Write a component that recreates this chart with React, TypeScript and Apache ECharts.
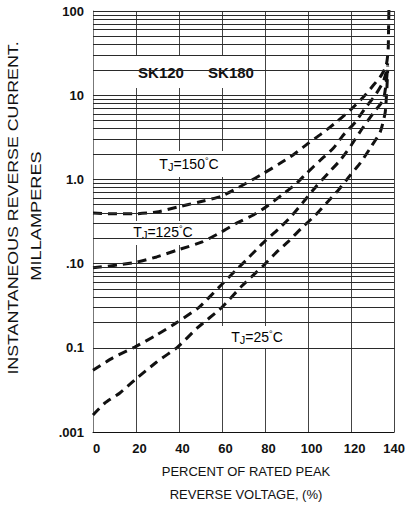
import React, { useEffect, useRef } from "react";
import * as echarts from "echarts";

// ---- data ----
// x: percent of rated peak reverse voltage, y: reverse current (mA)
const tj150: [number, number][] = [
  [0, 0.4], [9.2, 0.39], [18.5, 0.39], [29.6, 0.41], [39.3, 0.47], [49.4, 0.54],
  [59.6, 0.63], [71.2, 0.9], [79.5, 1.19], [86.4, 1.52], [93.3, 1.98], [100.2, 2.7],
  [106.3, 3.5], [113.2, 4.8], [119.7, 6.7], [125.7, 9.5], [130.3, 13.1], [134, 17.2],
  [136.3, 22.6], [137.2, 34], [137.4, 60], [137.6, 118],
];
const tj125: [number, number][] = [
  [0, 0.089], [18.5, 0.102], [29.6, 0.12], [39.3, 0.145], [50.8, 0.181], [59.6, 0.237],
  [67, 0.305], [74.8, 0.38], [80.9, 0.48], [87.8, 0.653], [94.3, 0.881], [99.4, 1.19],
  [105.8, 1.7], [111.8, 2.36], [116.4, 3.37], [122, 4.81], [126.6, 7.05], [131.2, 10],
  [134.9, 14.4], [136.3, 18.9], [137, 24],
];
const tj25a: [number, number][] = [
  [0, 0.0054], [9.2, 0.0076], [19.4, 0.0102], [29.6, 0.0142], [39.3, 0.0202], [49.4, 0.0305],
  [59.6, 0.0557], [66.5, 0.0839], [71.2, 0.11], [75.8, 0.145], [80.4, 0.19], [86.4, 0.26],
  [92.4, 0.37], [98.8, 0.58], [103.9, 0.835], [109.4, 1.19], [115, 1.7], [120.1, 2.56],
  [124.7, 3.86], [130.3, 6.15], [134.9, 8.77], [136.3, 14], [137, 22],
];
const tj25b: [number, number][] = [
  [0, 0.00159], [5.5, 0.00221], [12.5, 0.00291], [19.4, 0.00414], [29.6, 0.00678],
  [39.3, 0.0102], [48.5, 0.0172], [59.6, 0.0297], [69.3, 0.0545],
  [79.5, 0.0962], [85, 0.134], [91, 0.185], [97, 0.265], [103.5, 0.378], [108.6, 0.525],
  [114.1, 0.749], [119.7, 1.13], [124.3, 1.57], [128.9, 2.36], [133.5, 3.65],
  [135.8, 6.15], [136.3, 8.77], [136.7, 13.2], [137, 20],
];
// tick label texts for decades 0.001 .. 100 (as printed on the original)
const yTickLabels = [".001", "0.1", ".10", "1.0", "10", "100"];
const xTickValues = [0, 20, 40, 60, 80, 100, 120, 140];
const decades = [0.001, 0.01, 0.1, 1, 10];
const multipliers = [1, 2, 3, 4, 5, 6, 7, 8, 9];

const FONT = '"Liberation Sans", Arial, sans-serif';

export default function App() {
  const ref = useRef<HTMLDivElement>(null);
  useEffect(() => {
    if (!ref.current) return;
    const chart = echarts.init(ref.current, undefined, { renderer: "svg" });

    const gridValues: number[] = [];
    decades.forEach((d) => multipliers.forEach((m) => gridValues.push(+(d * m).toPrecision(3))));
    gridValues.push(100);

    const curveStyle = { color: "#111", width: 3, type: [9, 6] as any, cap: "butt" as any };
    const mkCurve = (name: string, data: [number, number][]) => ({
      name,
      type: "line",
      data,
      smooth: 0.2,
      showSymbol: false,
      symbol: "none",
      clip: false,
      z: 3,
      lineStyle: curveStyle,
      silent: true,
    });

    const tjRich = {
      t: { fontSize: 14, fontFamily: FONT, lineHeight: 16, color: "#111" },
      j: { fontSize: 11, fontFamily: FONT, lineHeight: 10, verticalAlign: "bottom", color: "#111" },
      d: { fontSize: 9, fontFamily: FONT, lineHeight: 10, verticalAlign: "top", color: "#111" },
    };
    const box = (x: number, y: number, w: number, h: number) => ({
      type: "rect",
      z: 2,
      silent: true,
      shape: { x, y, width: w, height: h },
      style: { fill: "#fff" },
    });
    const tjText = (x: number, y: number, temp: string) => ({
      type: "text",
      z: 2,
      z2: 10,
      x,
      y,
      silent: true,
      style: {
        text: `{t|T}{j|J}{t|=${temp}}{d|°}{t|C}`,
        rich: tjRich,
        align: "center",
        verticalAlign: "middle",
      },
    });
    const plain = (x: number, y: number, text: string, size: number, weight: string, extra: any = {}) => ({
      type: "text",
      z: 2,
      z2: 10,
      x,
      y,
      silent: true,
      ...extra,
      style: {
        text,
        fontSize: size,
        fontWeight: weight,
        fontFamily: FONT,
        fill: "#111",
        align: "center",
        verticalAlign: "middle",
      },
    });

    chart.setOption({
      animation: false,
      grid: { left: 93, right: 12, top: 11, bottom: 78 },
      xAxis: {
        type: "value",
        min: 0,
        max: 140,
        interval: 20,
        axisLine: { show: true, lineStyle: { color: "#111", width: 1 } },
        axisTick: { show: false },
        splitLine: { show: true, lineStyle: { color: "#444", width: 1 } },
        axisLabel: {
          fontSize: 13,
          fontWeight: "bold",
          fontFamily: FONT,
          color: "#111",
          margin: 10,
          formatter: (v: number) => (xTickValues.indexOf(v) >= 0 && v !== 140 ? `{r|${v}}` : `${v}`),
          rich: { r: { fontSize: 13, fontWeight: "bold", fontFamily: FONT, color: "#111", padding: [0, 0, 0, 7] } },
        },
      },
      yAxis: {
        type: "log",
        logBase: 10,
        min: 0.001,
        max: 100,
        splitNumber: 5,
        axisLine: { show: true, lineStyle: { color: "#777", width: 1 } },
        axisTick: { show: false },
        splitLine: { show: false },
        axisLabel: {
          fontSize: 13,
          fontWeight: "bold",
          fontFamily: FONT,
          color: "#111",
          margin: 9,
          formatter: (v: number) => {
            const e = Math.round(Math.log10(v));
            return yTickLabels[e + 3] ?? "";
          },
        },
      },
      series: [
        {
          type: "line",
          data: [],
          z: 1,
          silent: true,
          markLine: {
            silent: true,
            symbol: ["none", "none"],
            label: { show: false },
            lineStyle: { type: "solid", color: "#2a2a2a", width: 1 },
            data: gridValues.map((v) => ({ yAxis: v })),
          },
        },
        mkCurve("TJ=150°C", tj150),
        mkCurve("TJ=125°C", tj125),
        mkCurve("TJ=25°C (a)", tj25a),
        mkCurve("TJ=25°C (b)", tj25b),
      ],
      graphic: [
        box(135, 55, 123, 33),
        plain(161, 72, "SK120", 15, "bold"),
        plain(231, 72, "SK180", 15, "bold"),
        box(148, 151, 76, 26),
        tjText(189, 164, "150"),
        box(126, 221, 76, 24),
        tjText(163, 232, "125"),
        box(220, 326, 75, 22),
        tjText(257, 337, "25"),
        plain(246, 471, "PERCENT OF RATED PEAK", 13, "normal"),
        plain(246, 494, "REVERSE VOLTAGE, (%)", 13, "normal"),
        plain(13, 208, "INSTANTANEOUS REVERSE CURRENT.", 14, "normal", { rotation: Math.PI / 2, scaleX: 1.27 }),
        plain(36, 216, "MILLAMPERES", 14, "normal", { rotation: Math.PI / 2, scaleX: 1.3 }),
      ],
    });
    return () => chart.dispose();
  }, []);
  return (
    <div
      ref={ref}
      style={{ position: "absolute", left: 0, top: 0, width: 408, height: 510, background: "#fff" }}
    />
  );
}
